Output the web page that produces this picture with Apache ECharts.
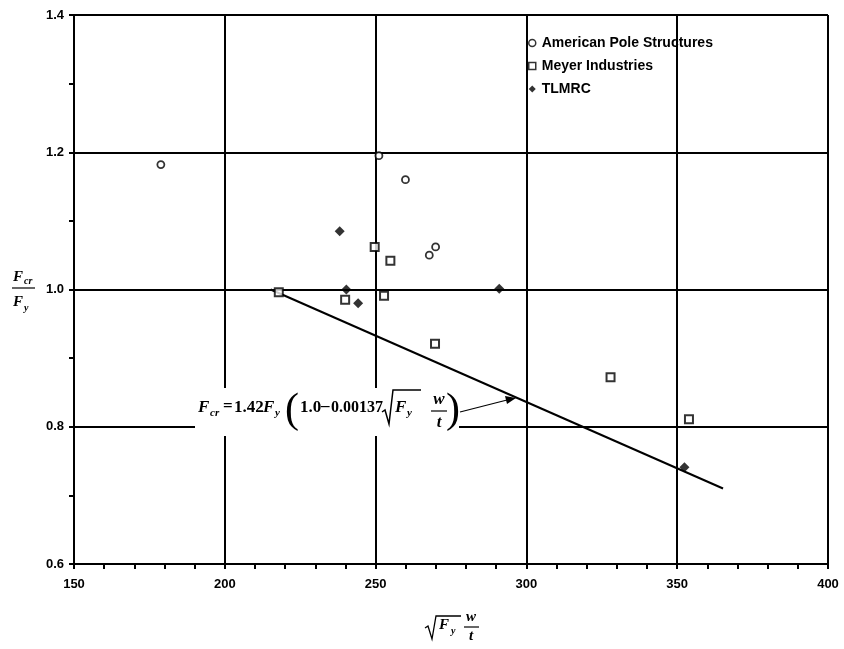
<!DOCTYPE html>
<html>
<head>
<meta charset="utf-8">
<script src="https://cdn.jsdelivr.net/npm/echarts@6/dist/echarts.min.js"></script>
<style>
html,body{margin:0;padding:0;background:#fff;}
#main{width:844px;height:649px;}
</style>
</head>
<body>
<div id="main"></div>
<script>
//数据
var apsX=[178.8,251.1,259.9,267.8,269.9];
var apsY=[1.182,1.195,1.160,1.050,1.062];
var meyerX=[217.9,249.7,254.9,252.8,239.9,269.7,327.9,353.9];
var meyerY=[0.996,1.062,1.042,0.991,0.985,0.921,0.872,0.811];
var tlmrcX=[238.1,240.3,244.2,291.0,352.4];
var tlmrcY=[1.085,1.000,0.980,1.001,0.741];
//公式直线两端
var lineX=[215.2,365.2];
var lineY=[1.0,0.71];
var seriesNames=['American Pole Structures','Meyer Industries','TLMRC'];

function pairs(xs,ys){
    var out=[];
    for(let i=0;i<xs.length;i++){
        out.push([xs[i],ys[i]]);
    }
    return out;
}

var serif='"Liberation Serif","Times New Roman",serif';
var tickFont='"Liberation Sans Narrow","Arial Narrow","Liberation Sans",sans-serif';

//文字小工具
function txt(x,y,s,size,italic,align){
    return {
        type:'text',z:101,
        style:{
            text:s,x:x,y:y,
            fontFamily:serif,fontSize:size,fontWeight:'bold',
            fontStyle:italic?'italic':'normal',
            fill:'#000',
            textAlign:align||'left',textVerticalAlign:'middle'
        }
    };
}
function seg(points,w){
    return {
        type:'polyline',z:101,
        shape:{points:points},
        style:{stroke:'#000',lineWidth:w||1.5,fill:null}
    };
}

var graphics=[
    //公式背景
    {type:'rect',z:100,shape:{x:195,y:388,width:264,height:48},style:{fill:'#fff'}},
    txt(198,408,'F',17,true),
    txt(210,413,'cr',11,true),
    txt(223,407,'=',17,false),
    txt(234,408,'1.42',17,false),
    txt(263,408,'F',17,true),
    txt(275,413,'y',11,true),
    {type:'text',z:101,style:{text:'(',x:285,y:411,fontFamily:serif,fontSize:42,fill:'#000',textVerticalAlign:'middle'}},
    txt(300,408,'1.0',17,false),
    txt(321,407,'\u2013',17,false),
    txt(331,408,'0.00137',16,false),
    seg([[382,412],[385,410],[389,424],[393,390],[421,390]],1.5),
    txt(395,408,'F',17,true),
    txt(407,413,'y',11,true),
    txt(439,400,'w',17,true,'center'),
    seg([[431,411],[447,411]],1.2),
    txt(439,423,'t',17,true,'center'),
    {type:'text',z:101,style:{text:')',x:446,y:411,fontFamily:serif,fontSize:42,fill:'#000',textVerticalAlign:'middle'}},
    //箭头
    seg([[460,412],[509,399.5]],1.2),
    {type:'polygon',z:101,shape:{points:[[516,398],[505,396],[507,404]]},style:{fill:'#000'}},
    //y轴标题
    txt(13,277,'F',15,true),
    txt(24,281,'cr',10,true),
    seg([[12,288],[35,288]],1.2),
    txt(13,302,'F',15,true),
    txt(24,308,'y',10,true),
    //x轴标题
    seg([[425,628],[428,626],[432,639],[436,616],[461,616]],1.3),
    txt(439,625,'F',15,true),
    txt(451,631,'y',10,true),
    txt(471,617,'w',15,true,'center'),
    seg([[464,627],[479,627]],1.2),
    txt(471,636,'t',15,true,'center')
];

var axisCommon={
    axisLine:{show:true,lineStyle:{color:'#000',width:2}},
    axisTick:{show:true,inside:false,length:5,lineStyle:{color:'#000',width:2}},
    minorTick:{show:true,length:5,lineStyle:{color:'#000',width:2}},
    splitLine:{show:true,lineStyle:{color:'#000',width:2}},
    axisLabel:{color:'#000',fontFamily:tickFont,fontWeight:'bold',fontSize:13}
};

option={
    animation:false,
    backgroundColor:'#fff',
    grid:{left:74,right:16,top:15,bottom:85,containLabel:false},
    legend:{
        orient:'vertical',
        left:523,top:31,
        itemWidth:7,itemHeight:7,itemGap:9,
        textStyle:{fontFamily:'"Liberation Sans",Arial,sans-serif',fontWeight:'bold',fontSize:14,color:'#000',padding:[0,0,0,1]},
        data:[
            {name:seriesNames[0],icon:'circle',itemStyle:{color:'#fff',borderColor:'#000',borderWidth:1.5}},
            {name:seriesNames[1],icon:'rect',itemStyle:{color:'#fff',borderColor:'#000',borderWidth:1.5}},
            {name:seriesNames[2],icon:'diamond',itemStyle:{color:'#000'}}
        ]
    },
    xAxis:Object.assign({},axisCommon,{
        type:'value',min:150,max:400,interval:50,
        minorTick:Object.assign({},axisCommon.minorTick,{splitNumber:5}),
        axisLabel:Object.assign({},axisCommon.axisLabel,{margin:14})
    }),
    yAxis:Object.assign({},axisCommon,{
        type:'value',min:0.6,max:1.4,interval:0.2,
        minorTick:Object.assign({},axisCommon.minorTick,{splitNumber:2}),
        axisLabel:Object.assign({},axisCommon.axisLabel,{margin:10,formatter:function(v){return v.toFixed(1);}})
    }),
    series:[
        {
            name:'fit',type:'line',
            data:pairs(lineX,lineY),
            showSymbol:false,symbol:'none',
            lineStyle:{color:'#000',width:2},
            z:3
        },
        {
            name:seriesNames[0],type:'scatter',
            data:pairs(apsX,apsY),
            symbol:'circle',symbolSize:7,
            itemStyle:{color:'#fff',borderColor:'#000',borderWidth:1.8},
            z:4
        },
        {
            name:seriesNames[1],type:'scatter',
            data:pairs(meyerX,meyerY),
            symbol:'rect',symbolSize:8,
            itemStyle:{color:'#fff',borderColor:'#000',borderWidth:2},
            z:4
        },
        {
            name:seriesNames[2],type:'scatter',
            data:pairs(tlmrcX,tlmrcY),
            symbol:'diamond',symbolSize:10,
            itemStyle:{color:'#000'},
            z:4
        }
    ],
    graphic:graphics
};

var myChart=echarts.init(document.getElementById('main'),null,{renderer:'canvas'});
myChart.setOption(option);
</script>
</body>
</html>
